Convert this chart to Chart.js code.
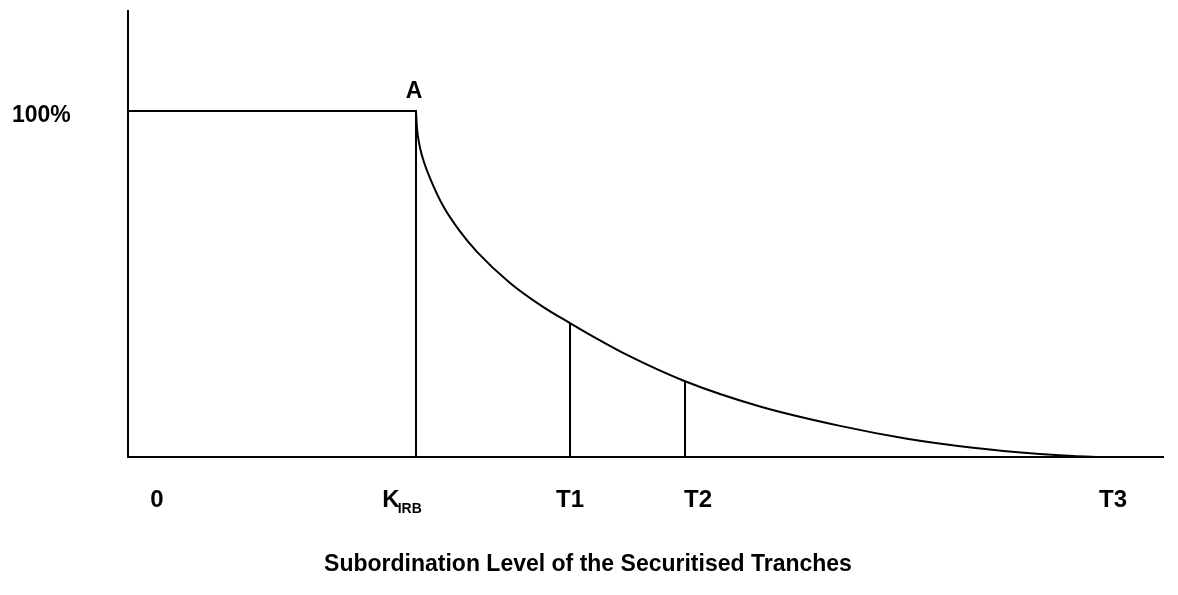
<!DOCTYPE html>
<html>
<head>
<meta charset="utf-8">
<script src="https://cdn.jsdelivr.net/npm/chart.js@4.4.1/dist/chart.umd.min.js"></script>
<style>
  html, body { margin: 0; padding: 0; background: #fff; }
</style>
</head>
<body>
<canvas id="grafico" width="1178" height="595"></canvas>
<script>
// subordination level (arbitrary units) and capital charge (%)
const kirb = 28.8;
const curvaX = [28.8, 28.9, 29.0, 29.2, 29.6, 30.2, 31.5, 33.2, 34.9, 38.2, 41.5, 44.2, 46.7, 49.9, 55.7, 63.2, 71.2, 77.9, 84.5, 91.2, 94.5, 97.2];
const curvaY = [100, 95.0, 92.6, 89.4, 85.2, 80.6, 72.6, 65.2, 59.3, 50.3, 43.4, 38.7, 34.5, 29.5, 21.9, 14.6, 9.0, 5.3, 2.7, 0.9, 0.3, 0];
const tramos = [44.2, 55.7];
const tramosY = [38.7, 21.9];

const etiquetasX = ["0", "K", "T1", "T2", "T3"];
const posEtiquetasX = [2.9, 26.3, 44.2, 57.0, 98.5];
const etiquetaY = "100%";
const titulo = "Subordination Level of the Securitised Tranches";

const negro = "#000";

const datasets = [
  {
    data: [{ x: 0, y: 100 }, { x: kirb, y: 100 }, { x: kirb, y: 0 }],
    borderColor: negro, borderWidth: 2, pointRadius: 0, showLine: true, tension: 0
  },
  {
    data: curvaX.map((x, i) => ({ x: x, y: curvaY[i] })),
    borderColor: negro, borderWidth: 2, pointRadius: 0, showLine: true,
    cubicInterpolationMode: "monotone"
  }
];
tramos.forEach((t, i) => {
  datasets.push({
    data: [{ x: t, y: 0 }, { x: t, y: tramosY[i] }],
    borderColor: negro, borderWidth: 2, pointRadius: 0, showLine: true
  });
});

const textos = {
  id: "textos",
  afterDraw(chart) {
    const ctx = chart.ctx;
    const xs = chart.scales.x;
    const ys = chart.scales.y;
    ctx.save();
    ctx.fillStyle = negro;
    ctx.textBaseline = "middle";

    ctx.font = "bold 23px 'Liberation Sans', Arial, sans-serif";
    ctx.textAlign = "left";
    ctx.fillText(etiquetaY, 12, ys.getPixelForValue(100) + 5);

    ctx.textAlign = "center";
    ctx.fillText("A", xs.getPixelForValue(kirb) - 2, ys.getPixelForValue(100) - 19);

    ctx.font = "bold 24px 'Liberation Sans', Arial, sans-serif";
    const yEtiq = chart.chartArea.bottom + 43;
    etiquetasX.forEach((lab, i) => {
      const px = xs.getPixelForValue(posEtiquetasX[i]);
      ctx.textAlign = "center";
      ctx.fillText(lab, px, yEtiq);
      if (lab === "K") {
        const w = ctx.measureText(lab).width;
        ctx.font = "bold 14px 'Liberation Sans', Arial, sans-serif";
        ctx.textAlign = "left";
        ctx.fillText("IRB", px + w / 2 - 2, yEtiq + 9);
        ctx.font = "bold 24px 'Liberation Sans', Arial, sans-serif";
      }
    });

    ctx.font = "bold 23px 'Liberation Sans', Arial, sans-serif";
    ctx.textAlign = "center";
    ctx.fillText(titulo, 588, 565);
    ctx.restore();
  }
};

new Chart(document.getElementById("grafico"), {
  type: "scatter",
  data: { datasets: datasets },
  plugins: [textos],
  options: {
    responsive: false,
    animation: false,
    layout: { padding: { left: 128, top: 11, right: 15, bottom: 138 } },
    plugins: { legend: { display: false }, tooltip: { enabled: false } },
    scales: {
      x: {
        type: "linear", min: 0, max: 103.5,
        grid: { display: false },
        border: { display: true, color: negro, width: 2 },
        ticks: { display: false },
        afterFit: (s) => { s.height = 0; }
      },
      y: {
        type: "linear", min: 0, max: 128.9,
        grid: { display: false },
        border: { display: true, color: negro, width: 2 },
        ticks: { display: false },
        afterFit: (s) => { s.width = 0; }
      }
    }
  }
});
</script>
</body>
</html>
